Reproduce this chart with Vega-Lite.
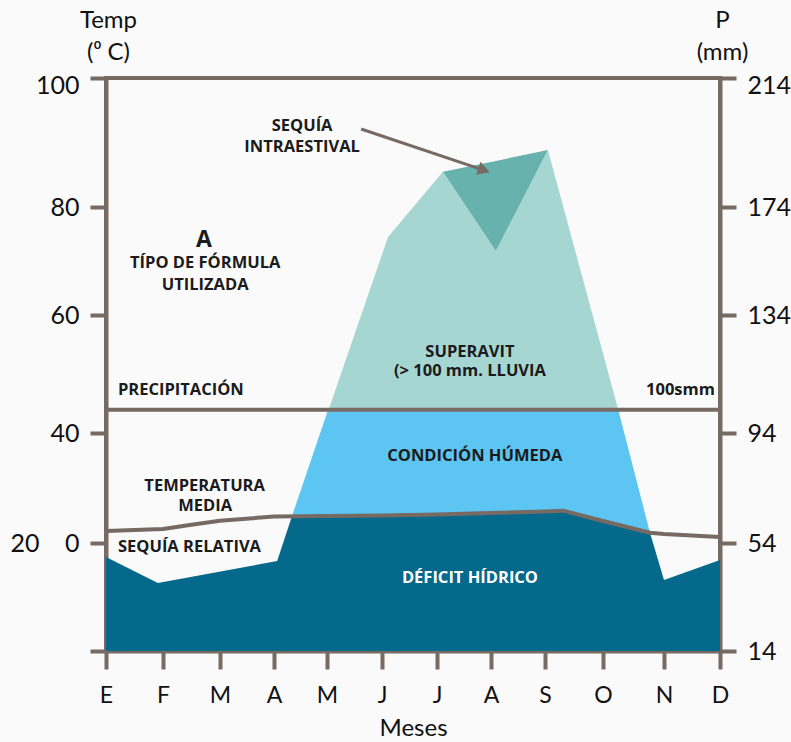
{
  "$schema": "https://vega.github.io/schema/vega-lite/v6.json",
  "width": 614,
  "height": 573,
  "autosize": "none",
  "padding": {"left": 106, "top": 78, "right": 71, "bottom": 91},
  "background": "#fafafa",
  "config": {
    "view": {"stroke": "#766a63", "strokeWidth": 4},
    "axis": {
      "labelFont": "Lato", "titleFont": "Lato", "labelColor": "#111111", "titleColor": "#111111",
      "tickColor": "#766a63", "domainColor": "#766a63", "domainWidth": 4, "tickWidth": 4,
      "grid": false, "labelFlush": false, "zindex": 1, "titleFontWeight": "normal", "labelOverlap": false
    },
    "text": {"font": "Open Sans", "fontWeight": "bold", "fontSize": 16.5, "baseline": "alphabetic", "color": "#1b1b1b"}
  },
  "encoding": {
    "x": {
      "field": "m", "type": "quantitative",
      "scale": {"domain": [0,1,2,3,4,5,6,7,8,9,10,11], "range": [0,57,114,168,221,276,331,385,439,497,558,614], "nice": false, "zero": false},
      "axis": {
        "values": [0,1,2,3,4,5,6,7,8,9,10,11],
        "labelExpr": "['E','F','M','A','M','J','J','A','S','O','N','D'][datum.value]",
        "tickSize": 18, "labelFontSize": 23, "labelPadding": 15,
        "title": "Meses", "titleFontSize": 24, "titlePadding": 9
      }
    },
    "y": {
      "field": "p", "type": "quantitative",
      "scale": {"domain": [14,54,94,134,174,214], "range": [573,465,355,237,129,0], "nice": false, "zero": false},
      "axis": null
    }
  },
  "layer": [
    {
      "data": {"values": [
        {"m": 4.03, "p": 101.9}, {"m": 5.11, "p": 162.9}, {"m": 6.11, "p": 184.9},
        {"m": 7.09, "p": 157.7}, {"m": 8.05, "p": 191.7}, {"m": 9.25, "p": 101.9}
      ]},
      "mark": {"type": "area", "color": "#a6d6d2"},
      "encoding": {
        "y": {
          "field": "p", "type": "quantitative",
          "scale": {"domain": [14,54,94,134,174,214], "range": [573,465,355,237,129,0], "nice": false, "zero": false},
          "axis": {
            "orient": "left",
            "values": [14,54,94,134,174,214],
            "labelExpr": "datum.value==214?'100':datum.value==174?'80':datum.value==134?'60':datum.value==94?'40':datum.value==54?'20\u00a0\u00a0\u00a0\u00a00':''",
            "tickSize": 16, "labelFontSize": 25, "labelPadding": 11,
            "labelOffset": {"condition": {"test": "datum.value == 214", "value": 7}, "value": 0},
            "title": ["Temp", "(\u2070 C)"], "titleAngle": 0, "titleAlign": "center", "titleBaseline": "alphabetic",
            "titleX": 2, "titleY": -51, "titleFontSize": 24, "titleLineHeight": 32
          }
        },
        "y2": {"datum": 101.9}
      }
    },
    {
      "data": {"values": [
        {"m": 6.11, "p": 184.9, "p2": 184.9}, {"m": 7.09, "p": 188.3, "p2": 157.7}, {"m": 8.05, "p": 191.7, "p2": 191.7}
      ]},
      "mark": {"type": "area", "color": "#67b2ad"},
      "encoding": {"y2": {"field": "p2"}}
    },
    {
      "data": {"values": [
        {"m": 3.34, "p": 63.8, "p2": 63.8}, {"m": 4.02, "p": 101.9, "p2": 63.82}, {"m": 5, "p": 101.9, "p2": 64.0},
        {"m": 6, "p": 101.9, "p2": 64.36}, {"m": 7, "p": 101.9, "p2": 64.91}, {"m": 8, "p": 101.9, "p2": 65.45},
        {"m": 8.31, "p": 101.9, "p2": 65.75}, {"m": 9, "p": 101.9, "p2": 62.0}, {"m": 9.25, "p": 101.9, "p2": 60.6},
        {"m": 9.77, "p": 57.75, "p2": 57.75}
      ]},
      "mark": {"type": "area", "color": "#5dc5f1"},
      "encoding": {"y2": {"field": "p2"}}
    },
    {
      "data": {"values": [
        {"m": 0, "p": 48.8}, {"m": 0.91, "p": 39.2}, {"m": 3.06, "p": 47.3}, {"m": 3.34, "p": 63.8},
        {"m": 4, "p": 63.82}, {"m": 5, "p": 64.0}, {"m": 6, "p": 64.36}, {"m": 7, "p": 64.91},
        {"m": 8, "p": 65.45}, {"m": 8.31, "p": 65.75}, {"m": 9, "p": 62.0}, {"m": 9.77, "p": 57.75},
        {"m": 10, "p": 40.3}, {"m": 11, "p": 47.7}
      ]},
      "mark": {"type": "area", "color": "#05698c"},
      "encoding": {"y2": {"datum": 14}}
    },
    {
      "data": {"values": [{"m": 0, "p": 101.9}, {"m": 11, "p": 101.9}]},
      "mark": {"type": "line", "color": "#766a63", "strokeWidth": 4},
      "encoding": {
        "y": {
          "field": "p", "type": "quantitative",
          "scale": {"domain": [14,54,94,134,174,214], "range": [573,465,355,237,129,0], "nice": false, "zero": false},
          "axis": {
            "orient": "right",
            "values": [14,54,94,134,174,214],
            "tickSize": 16, "labelFontSize": 25, "labelPadding": 11,
            "labelOffset": {"condition": {"test": "datum.value == 214", "value": 7}, "value": 0},
            "title": ["P", "(mm)"], "titleAngle": 0, "titleAlign": "center", "titleBaseline": "alphabetic",
            "titleX": 2, "titleY": -51, "titleFontSize": 24, "titleLineHeight": 32
          }
        }
      }
    },
    {
      "data": {"values": [
        {"m": 0, "p": 58.36}, {"m": 1, "p": 59.09}, {"m": 1.47, "p": 60.55}, {"m": 2, "p": 62.11},
        {"m": 3, "p": 63.64}, {"m": 4, "p": 63.82}, {"m": 5, "p": 64.0}, {"m": 6, "p": 64.36},
        {"m": 7, "p": 64.91}, {"m": 8, "p": 65.45}, {"m": 8.31, "p": 65.75}, {"m": 9, "p": 62.0},
        {"m": 9.77, "p": 57.75}, {"m": 10, "p": 57.27}, {"m": 11, "p": 56.18}
      ]},
      "mark": {"type": "line", "color": "#766a63", "strokeWidth": 4, "strokeJoin": "round"}
    },
    {
      "data": {"values": [{"m": 4.62, "p": 198.2}, {"m": 6.85, "p": 185.5}]},
      "mark": {"type": "line", "color": "#766a63", "strokeWidth": 3}
    },
    {
      "data": {"values": [{"m": 6.87, "p": 185.4}]},
      "mark": {"type": "point", "shape": "triangle-right", "filled": true, "color": "#766a63", "size": 190, "angle": 19, "opacity": 1}
    },
    {
      "data": {"values": [
        {"t": "SEQUÍA", "m": 3.53, "p": 197.6},
        {"t": "INTRAESTIVAL", "m": 3.53, "p": 191.05},
        {"t": "TÍPO DE FÓRMULA", "m": 1.74, "p": 151.4},
        {"t": "UTILIZADA", "m": 1.74, "p": 143.3},
        {"t": "SUPERAVIT", "m": 6.61, "p": 119.9},
        {"t": "(> 100 mm. LLUVIA", "m": 6.61, "p": 113.2},
        {"t": "CONDICIÓN HÚMEDA", "m": 6.70, "p": 83.9},
        {"t": "TEMPERATURA", "m": 1.73, "p": 72.9},
        {"t": "MEDIA", "m": 1.74, "p": 65.7}
      ]},
      "mark": {"type": "text", "align": "center"},
      "encoding": {"text": {"field": "t"}}
    },
    {
      "data": {"values": [
        {"t": "PRECIPITACIÓN", "m": 0.21, "p": 106.9},
        {"t": "SEQUÍA RELATIVA", "m": 0.21, "p": 50.7}
      ]},
      "mark": {"type": "text", "align": "left"},
      "encoding": {"text": {"field": "t"}}
    },
    {
      "data": {"values": [{"t": "100smm", "m": 10.91, "p": 106.9}]},
      "mark": {"type": "text", "align": "right"},
      "encoding": {"text": {"field": "t"}}
    },
    {
      "data": {"values": [{"t": "A", "m": 1.72, "p": 159.2}]},
      "mark": {"type": "text", "align": "center", "fontSize": 23},
      "encoding": {"text": {"field": "t"}}
    },
    {
      "data": {"values": [{"t": "DÉFICIT HÍDRICO", "m": 6.61, "p": 39.1}]},
      "mark": {"type": "text", "align": "center", "color": "#ffffff"},
      "encoding": {"text": {"field": "t"}}
    }
  ],
  "resolve": {"axis": {"y": "independent"}}
}
